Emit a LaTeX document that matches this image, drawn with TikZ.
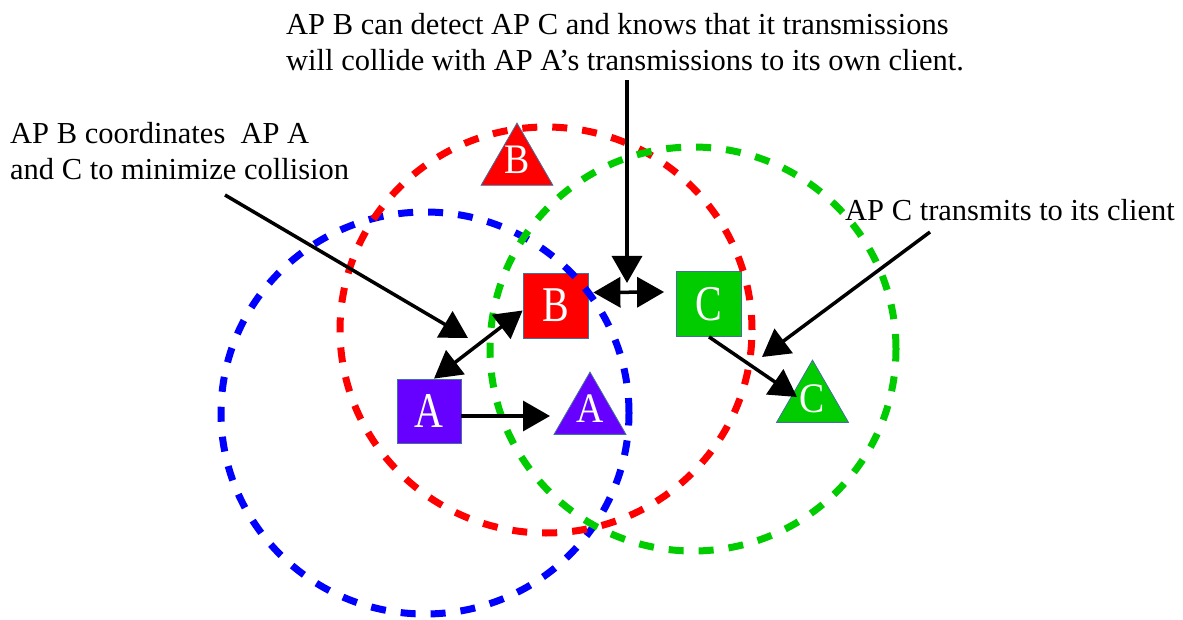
\documentclass[tikz,border=0pt]{standalone}
\usepackage{fontspec}
\setmainfont{Liberation Serif}
\newfontfamily\letfont[FakeStretch=0.8]{Liberation Serif}
\newfontfamily\trifont[FakeStretch=0.9]{Liberation Serif}
\usetikzlibrary{arrows.meta,shapes.geometric,calc}
\definecolor{apred}{RGB}{255,0,0}
\definecolor{apgreen}{RGB}{0,204,0}
\definecolor{apblue}{RGB}{0,0,255}
\definecolor{appurple}{RGB}{102,0,255}
\definecolor{edgecol}{RGB}{65,113,156}
\begin{document}
\begin{tikzpicture}[x=1pt,y=-1pt,
  ring/.style={line width=7pt, dash pattern=on 15pt off 15pt},
  apbox/.style={draw=edgecol, line width=0.8pt, minimum size=64pt, inner sep=0pt},
  cli/.style={draw=edgecol, line width=0.8pt, regular polygon, regular polygon sides=3, minimum size=83pt, inner sep=0pt},
  lett/.style={text=white, font=\letfont\fontsize{50}{50}\selectfont, inner sep=0pt},
  trilett/.style={text=white, font=\trifont\fontsize{42}{42}\selectfont, inner sep=0pt},
  note/.style={font=\fontsize{30.5}{36}\selectfont, align=left, inner sep=0pt, anchor=north west},
  conn/.style={line width=3.5pt, -{Triangle[length=27pt,width=30pt]}},
  conn2/.style={line width=3.5pt, {Triangle[length=27pt,width=30pt]}-{Triangle[length=27pt,width=30pt]}}
]
\useasboundingbox (0,0) rectangle (1183,620);
\fill[white] (0,0) rectangle (1183,620);

% APs (squares) and clients (triangles)
\node[apbox, fill=appurple] (sqA) at (429,411) {};
\node[apbox, fill=apred, minimum size=65pt] (sqB) at (555.5,305.5) {};
\node[apbox, fill=apgreen, minimum size=65pt] (sqC) at (709,304) {};
\node[lett] (lA) at (sqA.center) {A};
\node[lett] (lB) at (sqB.center) {B};
\node[lett] (lC) at (sqC.center) {C};

\node[cli, fill=apred] (tB) at (517,164.6) {};
\node[cli, fill=appurple] (tA) at (590,413.6) {};
\node[cli, fill=apgreen] (tC) at (812.5,401.6) {};
\node[trilett] (ltB) at ($(tB.center)+(0,-5)$) {B};
\node[trilett] (ltA) at ($(tA.center)+(0,-5)$) {A};
\node[trilett] (ltC) at ($(tC.center)+(0,-3)$) {C};

% coverage rings
\draw[ring, apblue] (425,413) ellipse [x radius=204pt, y radius=201pt];
\draw[ring, apred] (546,330) ellipse [x radius=206pt, y radius=203pt];
\draw[ring, apgreen] (693,349) ellipse [x radius=203pt, y radius=202pt];

% texts
\node[note] (txtTop) at (286,13) {AP B can detect AP C and knows that it transmissions\\will collide with AP A's transmissions to its own client.};
\node[note] (txtLeft) at (10,122) {AP B coordinates~~AP A\\and C to minimize collision};
\node[note] (txtRight) at (845,199) {AP C transmits to its client};

% connector end points
\coordinate (pT) at (627,80);
\coordinate (tT) at (627,283);
\coordinate (pL) at (225,195);
\coordinate (tL) at (468,338);
\coordinate (pR) at (930,232);
\coordinate (tR) at (762,357);
\coordinate (tAin) at (550,416);
\coordinate (tCin) at (797,397);

% connectors
\draw[conn2] ($(sqA.north)+(5,0)$) -- ($(sqB.west)+(0,5)$);
\draw[conn2] ($(sqB.east)+(5,-13)$) -- ($(sqC.west)+(-12,-12)$);
\draw[conn] ($(sqA.east)+(0,5)$) -- (tAin);
\draw[conn] (sqC.south) -- (tCin);
\draw[conn] (pT) -- (tT);
\draw[conn] (pL) -- (tL);
\draw[conn] (pR) -- (tR);
\end{tikzpicture}
\end{document}
